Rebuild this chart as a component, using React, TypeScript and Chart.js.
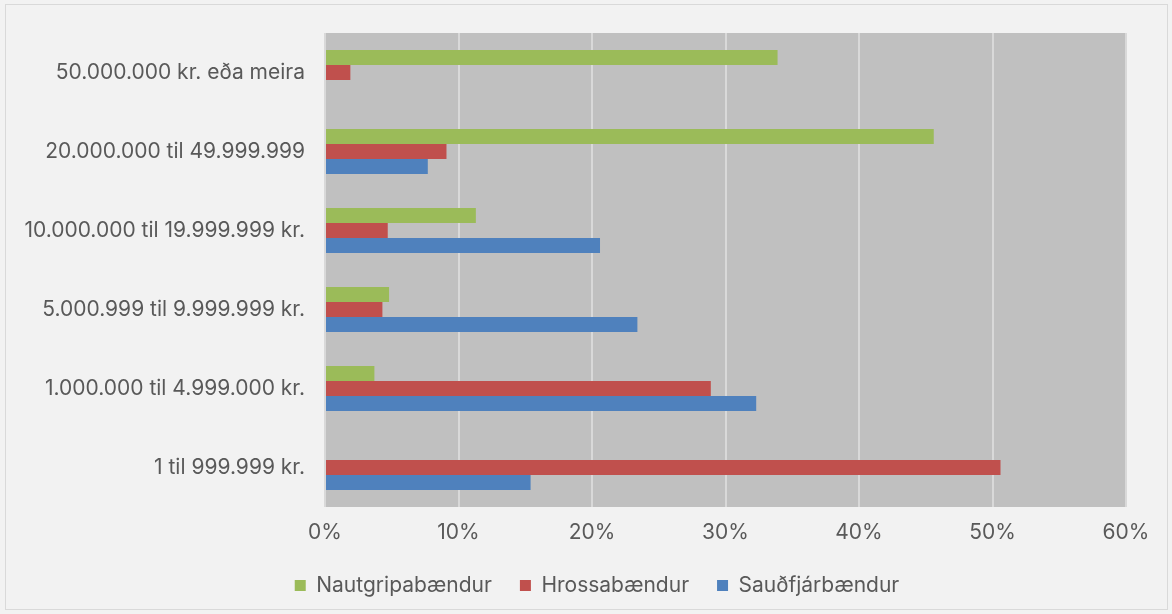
import React, { useEffect, useRef } from "react";
import { Chart, registerables } from "chart.js";

Chart.register(...registerables);

const categories = [
  "50.000.000 kr. eða meira",
  "20.000.000 til 49.999.999",
  "10.000.000 til 19.999.999 kr.",
  "5.000.999 til 9.999.999 kr.",
  "1.000.000 til 4.999.000 kr.",
  "1 til 999.999 kr.",
];

const seriesNames = ["Nautgripabændur", "Hrossabændur", "Sauðfjárbændur"];
const nautgripa = [33.9, 45.6, 11.3, 4.8, 3.7, 0];
const hrossa = [1.9, 9.1, 4.7, 4.3, 28.9, 50.6];
const saudfjar = [0, 7.7, 20.6, 23.4, 32.3, 15.4];
const colors = ["#9bbb59", "#c0504d", "#4f81bd"];
const xTicks = [0, 10, 20, 30, 40, 50, 60];

const FONT = "Inter, 'Open Sans', sans-serif";

const plotBg = {
  id: "plotBg",
  afterLayout(chart: any) {
    const lg = chart.legend;
    if (lg) {
      lg.left += 34;
      lg.right += 34;
    }
  },
  beforeDraw(chart: any) {
    const { ctx, chartArea } = chart;
    ctx.save();
    ctx.fillStyle = "#c0c0c0";
    ctx.fillRect(chartArea.left, chartArea.top, chartArea.right - chartArea.left, chartArea.bottom - chartArea.top);
    ctx.restore();
  },
};

export default function App() {
  const ref = useRef<HTMLCanvasElement | null>(null);
  useEffect(() => {
    document.body.style.margin = "0";
    const chart = new Chart(ref.current!, {
      type: "bar",
      data: {
        labels: categories,
        datasets: [nautgripa, hrossa, saudfjar].map((d, i) => ({
          label: seriesNames[i],
          data: d,
          backgroundColor: colors[i],
          borderWidth: 0,
          categoryPercentage: 0.571,
          barPercentage: 1,
        })),
      },
      options: {
        indexAxis: "y",
        animation: false,
        responsive: false,
        maintainAspectRatio: false,
        layout: { padding: { left: 0, right: 46, top: 33, bottom: 8 } },
        plugins: {
          legend: {
            position: "bottom",
            labels: {
              boxWidth: 11,
              boxHeight: 11,
              color: "#595959",
              font: { family: FONT, size: 21 },
              padding: 28,
            },
          },
          tooltip: { enabled: false },
        },
        scales: {
          x: {
            min: 0,
            max: 60,
            afterFit(scale: any) { scale.height = 40; },
            afterBuildTicks(scale: any) { scale.ticks = xTicks.map((v) => ({ value: v })); },
            ticks: {
              color: "#595959",
              font: { family: FONT, size: 21 },
              padding: 13,
              callback: (v: any) => v + "%",
            },
            grid: { color: "#d9d9d9", lineWidth: 2, drawTicks: false },
            border: { display: false },
          },
          y: {
            afterFit(scale: any) { scale.width = 325; },
            ticks: {
              color: "#595959",
              font: { family: FONT, size: 21 },
              padding: 20,
            },
            grid: { display: false, drawTicks: false },
            border: { display: false },
          },
        },
      },
      plugins: [plotBg],
    });
    return () => chart.destroy();
  }, []);
  return (
    <div style={{ position: "relative", width: 1172, height: 614, background: "#f2f2f2" }}>
      <div style={{ position: "absolute", left: 5, top: 4, right: 4, bottom: 4, border: "1px solid #d9d9d9" }} />
      <canvas ref={ref} width={1172} height={614} style={{ position: "absolute", left: 0, top: 0 }} />
    </div>
  );
}
